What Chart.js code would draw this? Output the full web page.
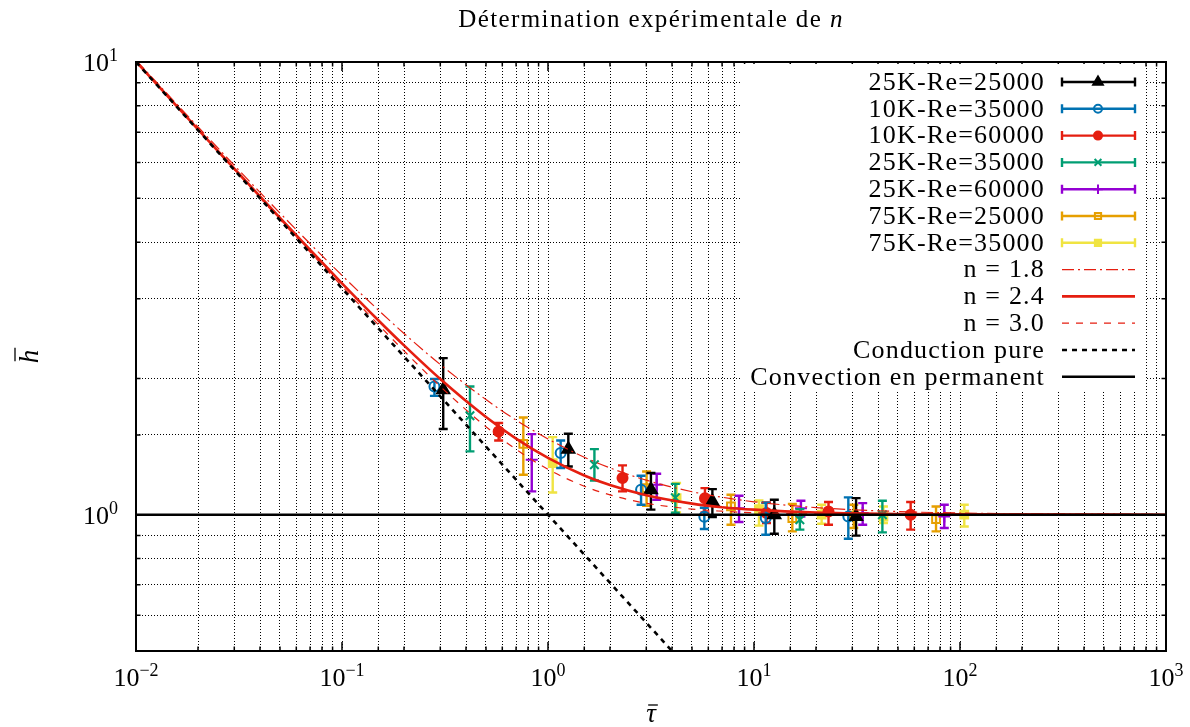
<!DOCTYPE html>
<html>
<head>
<meta charset="utf-8">
<script src="https://cdn.jsdelivr.net/npm/chart.js@4.4.0/dist/chart.umd.min.js"></script>
<style>
  body { margin: 0; background: #fff; }
</style>
</head>
<body>
<canvas id="chart" width="1190" height="727"></canvas>
<script>
// measured points (tau, h, lower / upper error bar)
const tau25K25 = [0.31, 1.255, 3.16, 6.28, 12.55, 31.3];
const h25K25 = [1.888, 1.396, 1.136, 1.07, 1.0, 0.991];
const lo25K25 = [1.546, 1.278, 1.026, 0.988, 0.908, 0.899];
const hi25K25 = [2.218, 1.51, 1.236, 1.139, 1.079, 1.088];

const tau10K35 = [0.281, 1.152, 2.83, 5.74, 11.4, 28.7];
const h10K35 = [1.92, 1.368, 1.136, 0.99, 0.983, 0.991];
const lo10K35 = [1.83, 1.268, 1.052, 0.93, 0.903, 0.885];
const hi10K35 = [1.994, 1.459, 1.219, 1.036, 1.063, 1.092];

const tau10K60 = [0.576, 2.30, 5.78, 11.5, 23.0, 57.6];
const h10K60 = [1.527, 1.205, 1.088, 1.009, 1.017, 1.0];
const lo10K60 = [1.459, 1.126, 1.012, 0.959, 0.95, 0.927];
const hi10K60 = [1.594, 1.285, 1.145, 1.065, 1.067, 1.067];

const tau25K35 = [0.418, 1.68, 4.15, 16.7, 42.0];
const h25K35 = [1.654, 1.289, 1.09, 0.975, 1.0];
const lo25K35 = [1.38, 1.19, 1.01, 0.927, 0.914];
const hi25K35 = [1.92, 1.396, 1.17, 1.029, 1.074];

const tau25K60 = [0.834, 3.37, 8.46, 16.9, 33.7, 83.9];
const h25K60 = [1.323, 1.165, 1.034, 1.034, 1.009, 0.991];
const lo25K60 = [1.126, 1.079, 0.964, 0.991, 0.95, 0.935];
const hi25K60 = [1.507, 1.232, 1.101, 1.074, 1.061, 1.052];

const tau75K25 = [0.759, 3.01, 7.73, 15.35, 30.5, 76.5];
const h75K25 = [1.434, 1.145, 1.043, 0.983, 0.995, 0.978];
const lo75K25 = [1.225, 1.047, 0.95, 0.919, 0.935, 0.919];
const hi75K25 = [1.64, 1.246, 1.107, 1.056, 1.052, 1.043];

const tau75K35 = [1.054, 4.21, 10.57, 21.3, 42.5, 104.9];
const h75K35 = [1.30, 1.088, 1.029, 1.0, 0.991, 1.0];
const lo75K35 = [1.12, 1.012, 0.946, 0.955, 0.959, 0.942];
const hi75K35 = [1.484, 1.175, 1.075, 1.052, 1.043, 1.052];

// model curves
const curveTau = [0.01, 0.02, 0.05, 0.1, 0.15, 0.2, 0.3, 0.5, 0.7, 1, 1.5, 2, 3, 5, 7, 10, 20, 50, 100, 1000];
const hN18 = [10.09, 7.19, 4.638, 3.378, 2.833, 2.514, 2.147, 1.796, 1.618, 1.470, 1.340, 1.269, 1.192, 1.124, 1.093, 1.068, 1.037, 1.0163, 1.0088, 1.0011];
const hN24 = [10.02, 7.10, 4.523, 3.245, 2.689, 2.366, 1.994, 1.644, 1.473, 1.335, 1.221, 1.163, 1.104, 1.058, 1.039, 1.026, 1.011, 1.004, 1.002, 1.0];
const hN30 = [10.0, 7.078, 4.488, 3.196, 2.631, 2.301, 1.920, 1.564, 1.394, 1.260, 1.156, 1.106, 1.060, 1.029, 1.018, 1.010, 1.004, 1.001, 1.0, 1.0];
const condTau = [0.01, 4];
const condH = [10, 0.5];
const convTau = [0.01, 1000];
const convH = [1, 1];

const xTicks = [0.01, 0.1, 1, 10, 100, 1000];
const xExp = ['\u22122', '\u22121', '0', '1', '2', '3'];
const yTicks = [1, 10];
const yExp = ['0', '1'];

const FONT = '"Liberation Serif", serif';
const RED = '#e51e10';

const pts = (t, h) => t.map((x, i) => ({ x: x, y: h[i] }));

function series(label, t, h, lo, hi, color, style, fill, radius) {
  return {
    label: label, data: pts(t, h), errLo: lo, errHi: hi,
    showLine: false, borderColor: color, backgroundColor: fill,
    pointStyle: style, pointRadius: radius, pointBorderWidth: 2,
    order: 2
  };
}

function curve(label, t, h, color, width, dash, order) {
  return {
    label: label, data: pts(t, h), borderColor: color, borderWidth: width,
    borderDash: dash, pointRadius: 0, cubicInterpolationMode: 'monotone',
    fill: false, order: order
  };
}

const datasets = [
  series('25K-Re=25000', tau25K25, h25K25, lo25K25, hi25K25, '#000000', 'triangle', '#000000', 7),
  series('10K-Re=35000', tau10K35, h10K35, lo10K35, hi10K35, '#0072b2', 'circle', 'rgba(0,0,0,0)', 5),
  series('10K-Re=60000', tau10K60, h10K60, lo10K60, hi10K60, RED, 'circle', RED, 5),
  series('25K-Re=35000', tau25K35, h25K35, lo25K35, hi25K35, '#009e73', 'crossRot', '#009e73', 6),
  series('25K-Re=60000', tau25K60, h25K60, lo25K60, hi25K60, '#9400d3', 'cross', '#9400d3', 6),
  series('75K-Re=25000', tau75K25, h75K25, lo75K25, hi75K25, '#e69f00', 'rect', 'rgba(0,0,0,0)', 5.5),
  series('75K-Re=35000', tau75K35, h75K35, lo75K35, hi75K35, '#f0e442', 'rect', '#f0e442', 5.5),
  curve('n = 1.8', curveTau, hN18, RED, 1.2, [12, 4, 2, 4], 1),
  curve('n = 2.4', curveTau, hN24, RED, 2.6, [], 1),
  curve('n = 3.0', curveTau, hN30, RED, 1.2, [7, 7], 1),
  curve('Conduction pure', condTau, condH, '#000000', 2.6, [5, 5], 0),
  curve('Convection en permanent', convTau, convH, '#000000', 2.4, [], 0)
];

function drawPow(ctx, x, y, exp, align) {
  ctx.letterSpacing = '0px';
  ctx.font = '26px ' + FONT;
  const wb = ctx.measureText('10').width;
  ctx.font = '18px ' + FONT;
  const we = ctx.measureText(exp).width;
  const w = wb + we;
  const x0 = align === 'center' ? x - w / 2 : x - w;
  ctx.textAlign = 'left';
  ctx.textBaseline = 'alphabetic';
  ctx.font = '26px ' + FONT;
  ctx.fillText('10', x0, y);
  ctx.font = '18px ' + FONT;
  ctx.fillText(exp, x0 + wb, y - 10);
}

// letter with a bar on top, centred on (x, y) baseline
function barred(ctx, ch, x, y) {
  ctx.font = 'italic 27px ' + FONT;
  ctx.textAlign = 'center';
  ctx.textBaseline = 'alphabetic';
  ctx.fillText(ch, x, y);
  const w = ctx.measureText(ch).width;
  const top = ch === 'h' ? y - 23 : y - 17;
  ctx.lineWidth = 1.3;
  ctx.beginPath();
  ctx.moveTo(x - w / 2 + 2, top);
  ctx.lineTo(x + w / 2 + 2, top);
  ctx.stroke();
}

const errorBars = {
  id: 'errorBars',
  beforeDatasetDraw(chart, args) {
    const ds = chart.data.datasets[args.index];
    if (!ds.errLo) return;
    const ctx = chart.ctx, xs = chart.scales.x, ys = chart.scales.y;
    ctx.save();
    ctx.strokeStyle = ds.borderColor;
    ctx.lineWidth = 2.4;
    ds.data.forEach((p, i) => {
      const px = xs.getPixelForValue(p.x);
      const top = ys.getPixelForValue(ds.errHi[i]);
      const bot = ys.getPixelForValue(ds.errLo[i]);
      ctx.beginPath();
      ctx.moveTo(px, top); ctx.lineTo(px, bot);
      ctx.moveTo(px - 4.5, top); ctx.lineTo(px + 4.5, top);
      ctx.moveTo(px - 4.5, bot); ctx.lineTo(px + 4.5, bot);
      ctx.stroke();
    });
    ctx.restore();
  }
};

const decor = {
  id: 'decor',
  afterDraw(chart) {
    const ctx = chart.ctx, a = chart.chartArea;
    const xs = chart.scales.x, ys = chart.scales.y;
    ctx.save();
    // inward tick marks on all four sides
    ctx.strokeStyle = '#000';
    ctx.lineWidth = 1.5;
    ctx.beginPath();
    xs.ticks.forEach(t => {
      const px = xs.getPixelForValue(t.value);
      const len = t.major ? 9 : 4.5;
      ctx.moveTo(px, a.bottom); ctx.lineTo(px, a.bottom - len);
      ctx.moveTo(px, a.top); ctx.lineTo(px, a.top + len);
    });
    ys.ticks.forEach(t => {
      const py = ys.getPixelForValue(t.value);
      const len = t.major ? 9 : 4.5;
      ctx.moveTo(a.left, py); ctx.lineTo(a.left + len, py);
      ctx.moveTo(a.right, py); ctx.lineTo(a.right - len, py);
    });
    ctx.stroke();

    // legend
    ctx.fillStyle = '#fff';
    ctx.fillRect(742, 64, 403, 326);
    const sx0 = 1062, sx1 = 1135, sxm = 1098;
    chart.data.datasets.forEach((ds, i) => {
      const y = 82 + i * 26.8;
      ctx.fillStyle = '#000';
      ctx.font = '26px ' + FONT;
      ctx.letterSpacing = '1.2px';
      ctx.textAlign = 'right';
      ctx.textBaseline = 'middle';
      ctx.fillText(ds.label, 1045, y + 1);
      ctx.letterSpacing = '0px';
      ctx.save();
      ctx.strokeStyle = ds.borderColor;
      if (ds.errLo) {
        ctx.lineWidth = 2.4;
        ctx.beginPath();
        ctx.moveTo(sx0, y); ctx.lineTo(sx1, y);
        ctx.moveTo(sx0, y - 4.5); ctx.lineTo(sx0, y + 4.5);
        ctx.moveTo(sx1, y - 4.5); ctx.lineTo(sx1, y + 4.5);
        ctx.stroke();
        ctx.fillStyle = ds.backgroundColor;
        ctx.lineWidth = ds.pointBorderWidth;
        Chart.helpers.drawPoint(ctx, { pointStyle: ds.pointStyle, radius: ds.pointRadius * 0.8, rotation: 0, borderWidth: ds.pointBorderWidth }, sxm, y);
      } else {
        ctx.lineWidth = ds.borderWidth;
        ctx.setLineDash(ds.borderDash);
        ctx.beginPath();
        ctx.moveTo(sx0, y); ctx.lineTo(sx1, y);
        ctx.stroke();
      }
      ctx.restore();
    });

    // frame
    ctx.strokeStyle = '#000';
    ctx.lineWidth = 2;
    ctx.setLineDash([]);
    ctx.strokeRect(a.left, a.top, a.right - a.left, a.bottom - a.top);

    // tick labels
    ctx.fillStyle = '#000';
    xTicks.forEach((v, i) => drawPow(ctx, xs.getPixelForValue(v), a.bottom + 35, xExp[i], 'center'));
    yTicks.forEach((v, i) => drawPow(ctx, a.left - 18, ys.getPixelForValue(v) + 9, yExp[i], 'right'));

    // title
    ctx.textBaseline = 'alphabetic';
    ctx.textAlign = 'left';
    ctx.letterSpacing = '1.4px';
    ctx.font = '25px ' + FONT;
    const t1 = 'Détermination expérimentale de ';
    const w1 = ctx.measureText(t1).width;
    ctx.font = 'italic 25px ' + FONT;
    const w2 = ctx.measureText('n').width;
    const tx = (a.left + a.right) / 2 - (w1 + w2) / 2;
    ctx.font = '25px ' + FONT;
    ctx.fillText(t1, tx, 27);
    ctx.font = 'italic 25px ' + FONT;
    ctx.fillText('n', tx + w1, 27);
    ctx.letterSpacing = '0px';

    // axis titles
    barred(ctx, '\u03c4', (a.left + a.right) / 2, 722);
    ctx.save();
    ctx.translate(38, (a.top + a.bottom) / 2);
    ctx.rotate(-Math.PI / 2);
    barred(ctx, 'h', 0, 0);
    ctx.restore();
    ctx.restore();
  }
};

const gridOpts = {
  color: '#000',
  lineWidth: 1,
  drawTicks: false
};

new Chart(document.getElementById('chart'), {
  type: 'line',
  data: { datasets: datasets },
  options: {
    responsive: false,
    animation: false,
    devicePixelRatio: 1,
    layout: { padding: { left: 136, right: 24, top: 62, bottom: 76 } },
    plugins: {
      legend: { display: false },
      tooltip: { enabled: false },
      title: { display: false }
    },
    scales: {
      x: {
        type: 'logarithmic', min: 0.01, max: 1000,
        grid: gridOpts,
        border: { display: false, dash: [1, 2] },
        ticks: { display: false, autoSkip: false },
        afterFit(s) { s.height = 0; }
      },
      y: {
        type: 'logarithmic', min: 0.5, max: 10,
        grid: gridOpts,
        border: { display: false, dash: [1, 2] },
        ticks: { display: false, autoSkip: false },
        afterFit(s) { s.width = 0; }
      }
    }
  },
  plugins: [errorBars, decor]
});
</script>
</body>
</html>
